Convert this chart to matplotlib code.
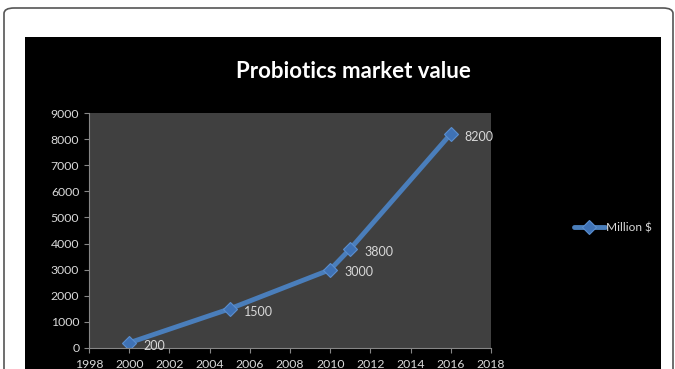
import matplotlib
matplotlib.use("Agg")
import matplotlib.pyplot as plt
from matplotlib.patches import FancyBboxPatch, Rectangle

years = [2000, 2005, 2010, 2011, 2016]
values = [200, 1500, 3000, 3800, 8200]
series_name = "Million $"
title = "Probiotics market value"
x_ticks = list(range(1998, 2019, 2))
y_ticks = list(range(0, 9001, 1000))

plt.rcParams['font.family'] = ['Lato', 'DejaVu Sans']

W, H = 675, 369
fig = plt.figure(figsize=(W / 100, H / 100), dpi=100)
fig.patch.set_facecolor('white')

def fx(px):
    return px / W

def fy(py):
    return 1 - py / H

# outer rounded frame
frame = FancyBboxPatch((fx(4), fy(400)), fx(669), (400 - 8) / H,
                       boxstyle="round,pad=0,rounding_size=0.015",
                       transform=fig.transFigure, facecolor='white',
                       edgecolor='#555555', linewidth=1.2, zorder=0)
fig.patches.append(frame)

# black chart area
black = Rectangle((fx(25), fy(380)), fx(661 - 25), (380 - 37) / H,
                  transform=fig.transFigure, facecolor='black',
                  edgecolor='none', zorder=1)
fig.patches.append(black)

ax = fig.add_axes([fx(89), fy(348), fx(491 - 89), (348 - 113) / H])
ax.set_facecolor('#404040')
ax.set_zorder(2)

ax.plot(years, values, color='#4A7EBB', linewidth=3.5, marker='D',
        markersize=7, markerfacecolor='#3F72B5', markeredgecolor='#5A8FD0',
        markeredgewidth=0.8, label=series_name, solid_capstyle='round',
        solid_joinstyle='round')

for x, v in zip(years, values):
    ax.annotate(str(v), (x, v), xytext=(10, -2), textcoords='offset points',
                color='#D9D9D9', fontsize=9, ha='left', va='center')

ax.set_xlim(1998, 2018)
ax.set_ylim(0, 9000)
ax.set_xticks(x_ticks)
ax.set_yticks(y_ticks)
ax.tick_params(colors='#868686', labelcolor='#D9D9D9', labelsize=8.8,
               length=3.5, direction='out', width=0.8)
ax.tick_params(axis='x', pad=4.5)
for s in ['top', 'right']:
    ax.spines[s].set_visible(False)
for s in ['left', 'bottom']:
    ax.spines[s].set_color('#868686')
    ax.spines[s].set_linewidth(0.8)

fig.text(fx(353), fy(72), title, color='white', fontsize=16,
         fontweight='bold', ha='center', va='center', zorder=3)

leg = fig.legend(loc='center left', bbox_to_anchor=(fx(563), fy(228)),
                 frameon=False, fontsize=8.6, handlelength=2.6,
                 handletextpad=0.1, labelcolor='#D9D9D9')
leg.set_zorder(5)

fig.savefig('out.png', dpi=100, facecolor='white')
